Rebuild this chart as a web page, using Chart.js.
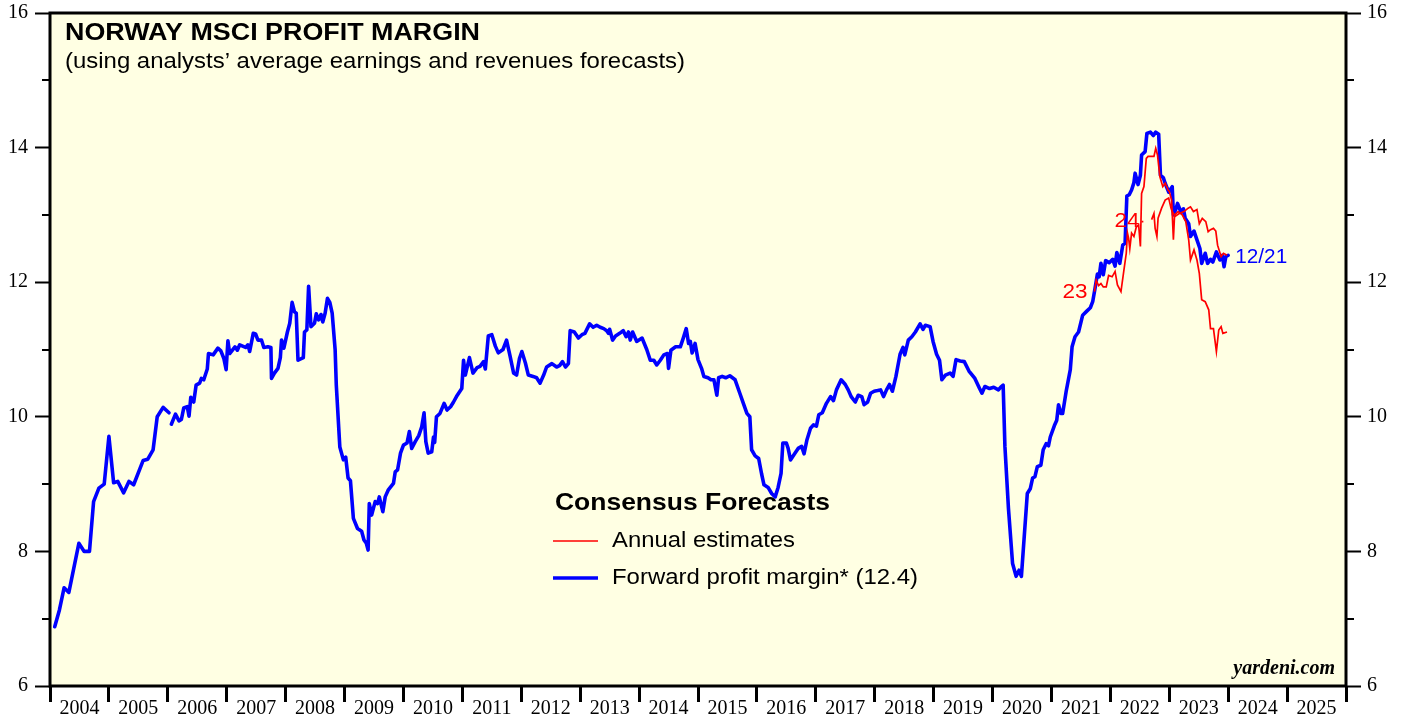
<!DOCTYPE html>
<html><head><meta charset="utf-8">
<script src="https://cdn.jsdelivr.net/npm/chart.js@4.4.1/dist/chart.umd.min.js"></script>
<style>html,body{margin:0;padding:0;background:#fff;overflow:hidden}</style>
</head><body>
<canvas id="c" width="1405" height="717" style="width:1405px;height:717px;display:block"></canvas>
<script>
// ---------- DATA ----------
const fwdDates = [2004.08,2004.16,2004.24,2004.32,2004.49,2004.58,2004.67,2004.74,2004.83,2004.92,2005.00,2005.08,2005.15,2005.25,2005.34,2005.42,2005.58,2005.66,2005.75,2005.82,2005.92,2006.02,2006.04,2006.06,2006.13,2006.19,2006.23,2006.27,2006.33,2006.36,2006.39,2006.44,2006.48,2006.54,2006.57,2006.61,2006.67,2006.69,2006.77,2006.85,2006.90,2006.95,2006.99,2007.02,2007.05,2007.14,2007.18,2007.22,2007.32,2007.36,2007.39,2007.45,2007.49,2007.53,2007.59,2007.63,2007.70,2007.75,2007.76,2007.81,2007.87,2007.91,2007.93,2007.97,2008.03,2008.07,2008.11,2008.15,2008.18,2008.21,2008.30,2008.32,2008.36,2008.39,2008.43,2008.49,2008.52,2008.56,2008.60,2008.63,2008.67,2008.71,2008.75,2008.79,2008.84,2008.86,2008.92,2008.98,2009.02,2009.06,2009.10,2009.15,2009.22,2009.29,2009.33,2009.37,2009.40,2009.42,2009.46,2009.52,2009.56,2009.59,2009.65,2009.69,2009.74,2009.83,2009.86,2009.90,2009.95,2010.00,2010.06,2010.10,2010.14,2010.20,2010.26,2010.31,2010.35,2010.38,2010.42,2010.48,2010.51,2010.53,2010.56,2010.62,2010.69,2010.74,2010.80,2010.85,2010.90,2010.99,2011.02,2011.05,2011.12,2011.18,2011.25,2011.30,2011.36,2011.39,2011.44,2011.50,2011.56,2011.61,2011.69,2011.75,2011.81,2011.87,2011.92,2011.97,2012.01,2012.07,2012.12,2012.20,2012.26,2012.32,2012.38,2012.43,2012.52,2012.60,2012.65,2012.70,2012.75,2012.80,2012.83,2012.90,2012.97,2013.03,2013.08,2013.16,2013.22,2013.28,2013.34,2013.40,2013.45,2013.48,2013.50,2013.55,2013.60,2013.67,2013.73,2013.78,2013.82,2013.85,2013.89,2013.96,2014.05,2014.13,2014.19,2014.25,2014.30,2014.36,2014.42,2014.48,2014.50,2014.54,2014.62,2014.70,2014.75,2014.80,2014.84,2014.87,2014.90,2014.95,2015.00,2015.06,2015.10,2015.17,2015.22,2015.27,2015.32,2015.35,2015.41,2015.47,2015.54,2015.63,2015.71,2015.77,2015.83,2015.88,2015.91,2015.97,2016.03,2016.08,2016.12,2016.19,2016.25,2016.31,2016.36,2016.41,2016.44,2016.50,2016.53,2016.57,2016.64,2016.70,2016.76,2016.80,2016.85,2016.91,2016.96,2017.01,2017.05,2017.11,2017.18,2017.25,2017.30,2017.35,2017.43,2017.50,2017.55,2017.60,2017.67,2017.72,2017.78,2017.82,2017.88,2017.93,2017.99,2018.05,2018.10,2018.15,2018.20,2018.25,2018.30,2018.36,2018.43,2018.48,2018.51,2018.57,2018.63,2018.69,2018.77,2018.82,2018.86,2018.94,2018.99,2019.05,2019.10,2019.14,2019.20,2019.28,2019.33,2019.38,2019.45,2019.52,2019.60,2019.70,2019.78,2019.82,2019.87,2019.95,2020.02,2020.10,2020.14,2020.18,2020.21,2020.27,2020.34,2020.40,2020.45,2020.49,2020.52,2020.59,2020.64,2020.68,2020.72,2020.76,2020.82,2020.86,2020.91,2020.95,2020.98,2021.05,2021.09,2021.12,2021.16,2021.19,2021.25,2021.27,2021.32,2021.35,2021.40,2021.46,2021.53,2021.60,2021.66,2021.70,2021.74,2021.78,2021.81,2021.84,2021.88,2021.92,2021.98,2022.04,2022.08,2022.11,2022.16,2022.21,2022.25,2022.28,2022.32,2022.36,2022.40,2022.42,2022.47,2022.51,2022.53,2022.59,2022.62,2022.68,2022.73,2022.77,2022.82,2022.85,2022.90,2022.93,2022.99,2023.05,2023.07,2023.11,2023.14,2023.20,2023.24,2023.27,2023.33,2023.36,2023.42,2023.47,2023.52,2023.55,2023.61,2023.65,2023.70,2023.74,2023.80,2023.86,2023.90,2023.93,2023.96,2024.00];
const fwdValues = [6.88,7.13,7.46,7.39,8.12,8.00,8.00,8.74,8.94,9.00,9.71,9.02,9.04,8.87,9.04,8.99,9.35,9.37,9.51,10.00,10.14,10.06,null,9.89,10.04,9.94,9.96,10.13,10.15,10.01,10.29,10.22,10.47,10.50,10.57,10.55,10.71,10.94,10.92,11.02,10.98,10.87,10.70,11.13,10.94,11.04,10.99,11.07,11.03,11.07,10.97,11.24,11.23,11.14,11.14,11.03,11.04,11.03,10.57,10.65,10.72,10.88,11.14,11.02,11.26,11.39,11.70,11.56,11.54,10.84,10.88,11.26,11.29,11.94,11.34,11.39,11.53,11.44,11.52,11.41,11.54,11.76,11.70,11.54,11.00,10.47,9.55,9.36,9.40,9.09,9.05,8.49,8.34,8.30,8.17,8.12,8.02,8.71,8.54,8.74,8.71,8.81,8.59,8.81,8.91,9.01,9.18,9.21,9.46,9.58,9.61,9.78,9.53,9.63,9.72,9.85,10.06,9.63,9.46,9.48,9.70,9.62,10.00,10.05,10.20,10.10,10.15,10.22,10.30,10.42,10.84,10.62,10.88,10.65,10.73,10.75,10.82,10.71,11.20,11.22,11.05,10.95,11.00,11.14,10.90,10.65,10.62,10.87,10.97,10.80,10.62,10.60,10.58,10.50,10.62,10.74,10.79,10.74,10.76,10.82,10.74,10.79,11.28,11.26,11.17,11.22,11.24,11.38,11.33,11.36,11.33,11.31,11.28,11.24,11.30,11.14,11.20,11.24,11.28,11.19,11.26,11.14,11.26,11.12,11.17,11.00,10.84,10.84,10.77,10.84,10.92,10.94,10.72,10.99,11.04,11.04,11.17,11.31,11.09,11.12,10.95,11.09,10.85,10.72,10.60,10.58,10.55,10.55,10.32,10.58,10.60,10.58,10.61,10.55,10.35,10.20,10.05,10.00,9.51,9.42,9.38,9.15,8.99,8.95,8.86,8.81,8.95,9.16,9.61,9.61,9.53,9.36,9.45,9.53,9.56,9.45,9.66,9.83,9.88,9.86,10.03,10.06,10.20,10.30,10.24,10.40,10.55,10.48,10.40,10.30,10.22,10.32,10.30,10.18,10.22,10.35,10.38,10.39,10.40,10.30,10.40,10.48,10.38,10.60,10.93,11.03,10.92,11.14,11.19,11.26,11.38,11.30,11.36,11.34,11.12,10.93,10.84,10.55,10.62,10.65,10.60,10.85,10.83,10.82,10.68,10.57,10.42,10.35,10.45,10.42,10.44,10.40,10.44,10.47,9.56,8.64,7.82,7.63,7.72,7.63,8.00,8.86,8.93,9.09,9.11,9.26,9.28,9.51,9.60,9.57,9.70,9.87,9.95,10.18,10.05,10.05,10.38,10.47,10.70,11.04,11.19,11.26,11.51,11.57,11.62,11.71,11.91,12.12,12.08,12.28,12.11,12.32,12.29,12.34,12.24,12.44,12.28,12.55,12.58,13.28,13.30,13.37,13.48,13.62,13.45,13.59,13.89,13.94,14.21,14.23,14.18,14.23,14.20,13.59,13.55,13.47,13.34,13.42,13.00,13.08,13.17,13.04,13.09,12.95,12.87,12.68,12.76,12.63,12.50,12.28,12.43,12.28,12.34,12.30,12.45,12.33,12.40,12.23,12.38,12.40];

const est23Dates = [2021.73,2021.76,2021.80,2021.84,2021.88,2021.93,2021.97,2022.03,2022.08,2022.12,2022.18,2022.23,2022.27,2022.29,2022.31,2022.33,2022.36,2022.40,2022.44,2022.48,2022.51,2022.53,2022.57,2022.61,2022.64,2022.74,2022.77,2022.80,2022.84,2022.89,2022.93,2022.98,2023.00,2023.04,2023.07,2023.09,2023.15,2023.22,2023.28,2023.33,2023.36,2023.38,2023.42,2023.47,2023.51,2023.55,2023.61,2023.67,2023.70,2023.75,2023.80,2023.84,2023.88,2023.91,2023.98];
const est23Values = [11.86,12.03,11.95,11.98,11.93,11.93,12.10,12.08,12.16,11.96,11.86,12.18,12.43,12.73,12.65,12.50,12.73,12.68,12.82,12.85,12.53,13.32,13.42,13.84,13.87,13.87,13.99,13.89,13.57,13.42,13.47,13.37,13.35,13.22,12.63,13.00,13.05,13.00,12.90,12.63,12.33,12.38,12.48,12.33,12.13,11.74,11.71,11.59,11.31,11.31,10.97,11.29,11.34,11.24,11.26];

const est24Dates = [2022.53,2022.56,2022.60,2022.70,2022.74,2022.76,2022.79,2022.81,2022.87,2022.93,2022.99,2023.03,2023.05,2023.10,2023.17,2023.25,2023.32,2023.36,2023.41,2023.47,2023.51,2023.56,2023.62,2023.66,2023.70,2023.75,2023.79,2023.82,2023.88,2023.92,2023.98];
const est24Values = [12.90,12.90,null,12.93,13.02,12.80,12.68,12.95,13.10,13.22,13.25,13.10,13.05,12.98,13.02,13.05,13.10,13.12,13.05,13.08,12.87,12.95,12.90,12.75,12.78,12.80,12.76,12.55,12.38,12.43,12.40];

const yearLabels = [2004,2005,2006,2007,2008,2009,2010,2011,2012,2013,2014,2015,2016,2017,2018,2019,2020,2021,2022,2023,2024,2025];
const yMajorTicks = [6,8,10,12,14,16];
const yMinorTicks = [7,9,11,13,15];

const toXY = (xs, ys) => xs.map((x, i) => ({x: x, y: ys[i]}));

// ---------- STYLE ----------
const PLOT_BG = '#FFFFE3';
const SANS = '"Liberation Sans", Arial, sans-serif';
const SERIF = '"Liberation Serif", "Times New Roman", serif';

function stretchedText(ctx, text, x, y, font, color, targetW, align) {
  ctx.save();
  ctx.font = font;
  ctx.fillStyle = color;
  ctx.textBaseline = 'middle';
  ctx.textAlign = 'left';
  const w = ctx.measureText(text).width;
  const sx = targetW ? targetW / w : 1;
  const x0 = align === 'right' ? x - w * sx : x;
  ctx.translate(x0, y);
  ctx.scale(sx, 1);
  ctx.fillText(text, 0, 0);
  ctx.restore();
}

const decorPlugin = {
  id: 'decor',
  beforeDraw(chart) {
    const {ctx, chartArea: a} = chart;
    ctx.save();
    ctx.fillStyle = '#ffffff';
    ctx.fillRect(0, 0, chart.width, chart.height);
    ctx.fillStyle = PLOT_BG;
    ctx.fillRect(a.left, a.top, a.right - a.left, a.bottom - a.top);
    ctx.restore();
  },
  afterDraw(chart) {
    const {ctx, chartArea: a} = chart;
    const yl = chart.scales.y, xs = chart.scales.x;
    ctx.save();
    ctx.strokeStyle = '#000';
    ctx.lineWidth = 2;
    yMinorTicks.forEach(v => {
      const py = Math.round(yl.getPixelForValue(v));
      ctx.beginPath();
      ctx.moveTo(a.left - 8, py); ctx.lineTo(a.left, py);
      ctx.moveTo(a.right, py); ctx.lineTo(a.right + 8, py);
      ctx.stroke();
    });
    ctx.lineWidth = 3;
    ctx.strokeRect(a.left, a.top, a.right - a.left, a.bottom - a.top);
    ctx.restore();

    stretchedText(ctx, 'NORWAY MSCI PROFIT MARGIN', 65, 33, 'bold 24px ' + SANS, '#000', 415);
    stretchedText(ctx, '(using analysts\u2019 average earnings and revenues forecasts)', 65, 62, '22px ' + SANS, '#000', 620);

    stretchedText(ctx, 'Consensus Forecasts', 555, 503, 'bold 24px ' + SANS, '#000', 275);
    ctx.save();
    ctx.strokeStyle = '#ff0000'; ctx.lineWidth = 1.5;
    ctx.beginPath(); ctx.moveTo(553, 541); ctx.lineTo(598, 541); ctx.stroke();
    ctx.strokeStyle = '#0000ff'; ctx.lineWidth = 3.5;
    ctx.beginPath(); ctx.moveTo(553, 578); ctx.lineTo(598, 578); ctx.stroke();
    ctx.restore();
    stretchedText(ctx, 'Annual estimates', 612, 541, '22px ' + SANS, '#000', 183);
    stretchedText(ctx, 'Forward profit margin* (12.4)', 612, 578, '22px ' + SANS, '#000', 306);

    const p23 = {x: xs.getPixelForValue(est23Dates[0]), y: yl.getPixelForValue(est23Values[0])};
    stretchedText(ctx, '23', p23.x - 7, p23.y + 1, '21px ' + SANS, '#ff0000', 25, 'right');
    const p24 = {x: xs.getPixelForValue(est24Dates[0]), y: yl.getPixelForValue(est24Values[0])};
    stretchedText(ctx, '24', p24.x - 2, p24.y, '21px ' + SANS, '#ff0000', 25, 'right');
    const last = fwdDates.length - 1;
    const pl = {x: xs.getPixelForValue(fwdDates[last]), y: yl.getPixelForValue(fwdValues[last])};
    stretchedText(ctx, '12/21', pl.x + 7, pl.y + 2, '21px ' + SANS, '#0000ff', 52);

    ctx.save();
    ctx.font = 'bold italic 20px ' + SERIF;
    ctx.fillStyle = '#000';
    ctx.textAlign = 'right';
    ctx.textBaseline = 'alphabetic';
    ctx.fillText('yardeni.com', a.right - 11, a.bottom - 12);
    ctx.restore();
  }
};

const yAxisCommon = (pos, width, pad) => ({
  type: 'linear', position: pos, min: 6, max: 16,
  afterBuildTicks: s => { s.ticks = yMajorTicks.map(v => ({value: v})); },
  afterFit: s => { s.width = width; s.paddingTop = 0; s.paddingBottom = 0; },
  border: {display: false},
  grid: {drawOnChartArea: false, tickLength: 15, tickWidth: 2, tickColor: '#000'},
  ticks: {color: '#000', padding: pad, font: {family: SERIF, size: 20}, callback: v => String(v)}
});

const xTickVals = [];
for (let y = 2004; y <= 2026; y += 0.5) xTickVals.push(y);

new Chart(document.getElementById('c'), {
  type: 'line',
  data: {
    datasets: [
      {label: 'Annual estimates 23', data: toXY(est23Dates, est23Values), borderColor: '#ff0000', borderWidth: 1.7, pointRadius: 0, tension: 0, spanGaps: false},
      {label: 'Annual estimates 24', data: toXY(est24Dates, est24Values), borderColor: '#ff0000', borderWidth: 1.7, pointRadius: 0, tension: 0, spanGaps: false},
      {label: 'Forward profit margin', data: toXY(fwdDates, fwdValues), borderColor: '#0000ff', borderWidth: 3.6, pointRadius: 0, tension: 0, spanGaps: false, borderJoinStyle: 'round', borderCapStyle: 'round'}
    ]
  },
  options: {
    responsive: false, animation: false, devicePixelRatio: 1,
    layout: {padding: {top: 13, left: 0, right: 0, bottom: 0}},
    plugins: {legend: {display: false}, tooltip: {enabled: false}, title: {display: false}},
    scales: {
      x: {
        type: 'linear', position: 'bottom', min: 2004, max: 2026,
        afterBuildTicks: s => { s.ticks = xTickVals.map(v => ({value: v})); },
        afterFit: s => { s.height = 31; s.paddingLeft = 0; s.paddingRight = 0; },
        border: {display: false},
        grid: {drawOnChartArea: false, tickLength: 16, tickWidth: 3,
          tickColor: c => (c.tick && Math.abs(c.tick.value % 1) < 1e-6) ? '#000' : 'rgba(0,0,0,0)'},
        ticks: {color: '#000', padding: -5, autoSkip: false, maxRotation: 0, minRotation: 0,
          font: {family: SERIF, size: 20},
          callback: v => (Math.abs(v % 1 - 0.5) < 1e-6 && yearLabels.includes(Math.floor(v))) ? String(Math.floor(v)) : ''}
      },
      y: yAxisCommon('left', 50, 7),
      y2: yAxisCommon('right', 59, 6)
    }
  },
  plugins: [decorPlugin]
});
</script>
</body></html>
